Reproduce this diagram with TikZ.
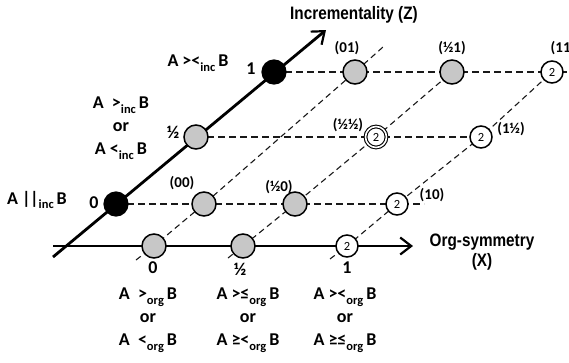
\documentclass[tikz,border=0pt]{standalone}
\usepackage{fontspec}
\setmainfont{Carlito}
\newfontfamily\narrowfont[FakeStretch=0.85]{Liberation Sans}
\usetikzlibrary{arrows.meta,backgrounds}
\newcommand\lsub[1]{\raisebox{-0.55ex}{\fontsize{12.5}{12.5}\selectfont #1}}
\begin{document}
\begin{tikzpicture}[x=1pt,y=-1pt,
  axisline/.style={line width=2.8pt,-{Straight Barb[length=11pt,width=17pt,line width=2.2pt]}},
  rowline/.style={line width=1.3pt,dash pattern=on 7pt off 4pt,black!90},
  diagline/.style={line width=1.1pt,dash pattern=on 6pt off 4pt,black!90},
  blk/.style={circle,fill=black,draw=black,line width=1.2pt,minimum size=24pt,inner sep=0pt},
  grc/.style={circle,fill=black!22,draw=black,line width=1.5pt,minimum size=24pt,inner sep=0pt},
  whc/.style={circle,fill=white,draw=black,line width=1.5pt,minimum size=22pt,inner sep=0pt,font=\fontsize{12.5}{12.5}\selectfont},
  dbl/.style={circle,fill=white,draw=black,line width=1.1pt,double,double distance=1.6pt,minimum size=21pt,inner sep=0pt,font=\fontsize{12.5}{12.5}\selectfont},
  lbl/.style={font=\fontsize{18}{23}\selectfont\bfseries,inner sep=0pt,align=center},
  clbl/.style={font=\fontsize{15}{15}\selectfont\bfseries,inner sep=0pt},
  ttl/.style={font=\fontsize{18}{20}\selectfont\narrowfont\bfseries,inner sep=0pt,align=center}
]
\useasboundingbox (0,0) rectangle (569,362);
% circles on Z axis
\node[blk] (z0) at (116,204) {};
\node[grc] (zh) at (196,137) {};
\node[blk] (z1) at (274,72) {};
% circles on X axis
\node[grc] (x0) at (154,246) {};
\node[grc] (xh) at (243,246) {};
\node[whc] (x1) at (347,246) {2};
% grid points
\node[grc] (p00) at (204,204) {};
\node[grc] (ph0) at (295,204) {};
\node[whc] (p10) at (397,204) {2};
\node[dbl] (phh) at (376,137) {2};
\node[whc] (p1h) at (481,137) {2};
\node[grc] (p01) at (355,72) {};
\node[grc] (ph1) at (452,72) {};
\node[whc] (p11) at (552,72) {2};
% free ends
\coordinate (zs) at (53,257);
\coordinate (ze) at (326,30);
\coordinate (xs) at (53,246);
\coordinate (xe) at (413,246);
\coordinate (d1s) at (136,260);
\coordinate (d1e) at (383,47);
\coordinate (d2s) at (228,258);
\coordinate (d3s) at (330,259);
\coordinate (r0e) at (424,204);
\coordinate (r1e) at (569,72);
\begin{scope}[on background layer]
  \draw[rowline] (z0.center) -- (p00.center) -- (ph0.center) -- (p10.center) -- (r0e);
  \draw[rowline] (zh.center) -- (phh.center) -- (p1h.center);
  \draw[rowline] (z1.center) -- (p01.center) -- (ph1.center) -- (p11.center) -- (r1e);
  \draw[diagline] (d1s) -- (x0.center) -- (p00.center) -- (p01.center) -- (d1e);
  \draw[diagline] (d2s) -- (xh.center) -- (ph0.center) -- (phh.center) -- (ph1.center);
  \draw[diagline] (d3s) -- (x1.center) -- (p10.center) -- (p1h.center) -- (p11.center);
  \draw[axisline] (zs) -- (ze);
  \draw[axisline] (xs) -- (xe);
\end{scope}
% axis titles
\node[ttl] (tz) at (354,15) {Incrementality (Z)};
\node[ttl] (tx) at (482,252) {Org-symmetry\\(X)};
% grid labels
\node[clbl] (l01) at (347,48) {(01)};
\node[clbl] (lh1) at (452,48) {(½1)};
\node[clbl] (l11) at (563,48) {(11)};
\node[clbl] (lhh) at (348,125) {(½½)};
\node[clbl] (l1h) at (511,129) {(1½)};
\node[clbl] (l00) at (182,183) {(00)};
\node[clbl] (lh0) at (279,187) {(½0)};
\node[clbl] (l10) at (432,195) {(10)};
% Z axis values
\node[lbl] (vz0) at (94,203) {0};
\node[lbl] (vzh) at (173,132) {½};
\node[lbl] (vz1) at (251,69) {1};
% X axis values
\node[lbl] (vx0) at (153,268) {0};
\node[lbl] (vxh) at (240,269) {½};
\node[lbl] (vx1) at (347,268) {1};
% inc relations
\node[lbl] (rinc1) at (198,63) {A ><\lsub{inc}\,B};
\node[lbl] (rinch) at (121,128) {A\ \ >\lsub{inc}\,B\\or\\A <\lsub{inc}\,B};
\node[lbl] (rinc0) at (37,200) {A |\kern-0.5pt|\lsub{inc}\,B};
% org relations
\node[lbl] (rorg0) at (148,320) {A\ \ >\lsub{org}\,B\\or\\A\ \ <\lsub{org}\,B};
\node[lbl] (rorgh) at (248,320) {A >≤\lsub{org}\,B\\or\\A ≥<\lsub{org}\,B};
\node[lbl] (rorg1) at (345,320) {A ><\lsub{org}\,B\\or\\A ≥≤\lsub{org}\,B};
\end{tikzpicture}
\end{document}
